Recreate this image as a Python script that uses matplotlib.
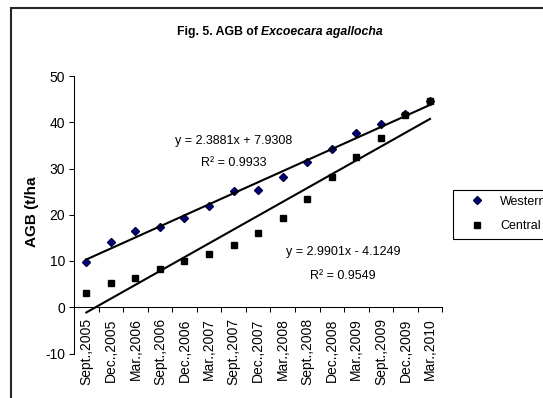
import numpy as np
import matplotlib.pyplot as plt
from matplotlib.lines import Line2D
from matplotlib.transforms import Bbox, TransformedBbox

plt.rcParams['font.family'] = ['Liberation Sans', 'DejaVu Sans']
plt.rcParams['axes.unicode_minus'] = False

# data
dates = ['Sept.,2005', 'Dec.,2005', 'Mar.,2006', 'Sept.,2006', 'Dec.,2006',
         'Mar.,2007', 'Sept.,2007', 'Dec.,2007', 'Mar.,2008', 'Sept.,2008',
         'Dec.,2008', 'Mar.,2009', 'Sept.,2009', 'Dec.,2009', 'Mar.,2010']
western = [9.8, 14.2, 16.5, 17.3, 19.4, 21.8, 25.1, 25.4, 28.2,
           31.5, 34.2, 37.6, 39.7, 41.7, 44.5]
central = [3.1, 5.3, 6.4, 8.2, 10.0, 11.5, 13.5, 16.1, 19.2,
           23.3, 28.1, 32.4, 36.7, 41.5, 44.6]
west_fit = [2.3881, 7.9308]
cent_fit = [2.9901, -4.1249]
west_eq = ['y = 2.3881x + 7.9308', 'R\u00b2 = 0.9933']
cent_eq = ['y = 2.9901x - 4.1249', 'R\u00b2 = 0.9549']

W, H = 543, 398
def fx(px): return px / W
def fy(py): return 1 - py / H

fig = plt.figure(figsize=(W / 100, H / 100), dpi=100)
ax = fig.add_axes([fx(74), fy(353.5), 368.3 / W, 277.5 / H])

# spines first: set_position resets the tick settings
for s in ['top', 'right']:
    ax.spines[s].set_visible(False)
ax.spines['bottom'].set_position(('data', 0))
for s in ['left', 'bottom']:
    ax.spines[s].set_linewidth(0.75)

x = np.arange(1, len(dates) + 1)
h1, = ax.plot(x, western, ls='none', marker='D', ms=4.2, color='#000080',
              mec='#000040', label='Western')
h2, = ax.plot(x, central, ls='none', marker='s', ms=4.3, color='black',
              label='Central')
xf = np.array([x[0], x[-1]])
ax.plot(xf, west_fit[0] * xf + west_fit[1], color='black', lw=1.5)
ax.plot(xf, cent_fit[0] * xf + cent_fit[1], color='black', lw=1.5)

ax.set_xlim(0.5, len(dates) + 0.5)
ax.set_ylim(-10, 50)
ax.set_yticks(range(-10, 51, 10))
ax.set_xticks(x)
ax.set_xticklabels(dates, rotation=90, fontsize=10)
ax.set_xticks(np.arange(0.5, len(dates) + 1, 1), minor=True)
ax.tick_params(axis='x', which='major', length=0, pad=8)
ax.tick_params(axis='x', which='minor', length=3.5, width=0.75)
ax.tick_params(axis='y', length=3.5, width=0.75, pad=3, labelsize=10)

leg = ax.legend(handles=[h1, h2], loc='upper left',
                bbox_to_anchor=(fx(452.7), fy(189.5)),
                bbox_transform=fig.transFigure, fancybox=False,
                edgecolor='black', framealpha=1, fontsize=9, borderpad=0.5,
                labelspacing=1.0, handlelength=2.9, handletextpad=0.4,
                borderaxespad=0)
leg.get_frame().set_linewidth(0.8)

# trendline equations
fig.text(fx(233.5), fy(140.7), west_eq[0], ha='center', va='center', fontsize=9)
fig.text(fx(234), fy(163.3), west_eq[1], ha='center', va='center', fontsize=9)
fig.text(fx(343), fy(251.7), cent_eq[0], ha='center', va='center', fontsize=9)
fig.text(fx(343.3), fy(276), cent_eq[1], ha='center', va='center', fontsize=9)

# title: bold + bold italic
t1 = fig.text(fx(177), fy(35), 'Fig. 5. AGB of ', fontsize=8.8,
              fontweight='bold', va='baseline', ha='left')
ax.annotate('Excoecara agallocha', xy=(1, 0), xycoords=t1, va='bottom',
            ha='left', fontsize=8.8, fontweight='bold', fontstyle='italic',
            annotation_clip=False)

# y label, truncated at the top as in the original
yl = fig.text(fx(31.7), fy(247), 'AGB (t/ha)', rotation=90, ha='center',
              va='bottom', fontsize=11, fontweight='bold')
yl.set_clip_box(TransformedBbox(Bbox([[0, 0], [1, fy(177)]]), fig.transFigure))
yl.set_clip_on(True)

# chart area border (cut off on the right and bottom)
fig.add_artist(Line2D([fx(11), fx(11), 1.0], [0, fy(8.3), fy(8.3)],
                      transform=fig.transFigure, color='#262626', lw=1.5,
                      solid_joinstyle='miter'))

fig.savefig('out.png', dpi=100)
